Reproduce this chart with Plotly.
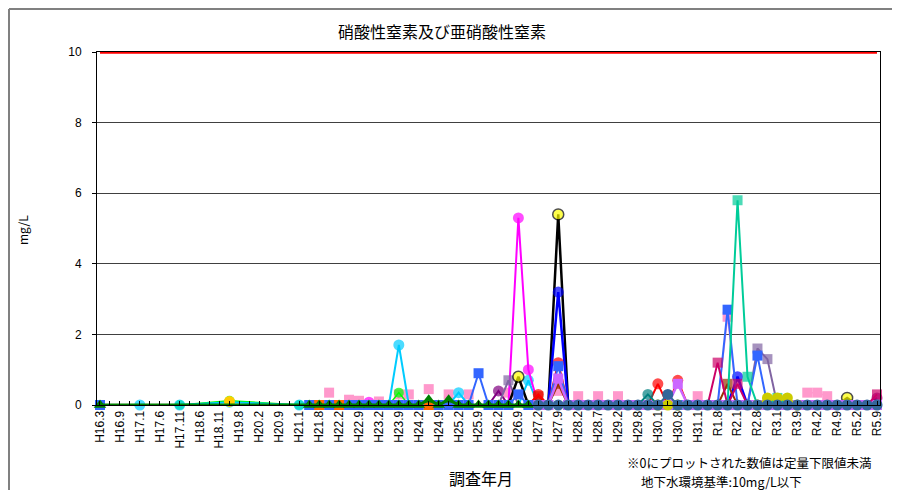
import plotly.graph_objects as go

# ---------------- data ----------------
labels = ["H16.3","H16.9","H17.1","H17.6","H17.11","H18.6","H18.11","H19.8","H20.2","H20.9",
          "H21.1","H21.8","H22.2","H22.9","H23.2","H23.9","H24.2","H24.9","H25.2","H25.9",
          "H26.2","H26.9","H27.2","H27.9","H28.2","H28.7","H29.2","H29.8","H30.1","H30.8",
          "H31.1","R1.8","R2.1","R2.8","R3.1","R3.9","R4.2","R4.9","R5.2","R5.9"]
n_cat = 79          # survey dates (every second one labelled)
standard = 10       # 地下水環境基準 10 mg/L

pink_x = [23, None, 25, 26, None, 28, None, 30, 31, None, 33, None, 35, None, 37, None, 41, None,
          46, None, 48, None, 50, None, 52, None, 60, None, 62, 63, 64, None, 71, 72, 73]
pink_y = [0.35, None, 0.15, 0.12, None, 0.1, None, 0.3, 0.3, None, 0.45, None, 0.3, None, 0.3, None, 0.35, None,
          0.4, None, 0.25, None, 0.25, None, 0.25, None, 0.25, None, 0, 2.5, 0, None, 0.35, 0.35, 0.25]

lime_x = [8, 13, 20, 29, 30, 31]
lime_y = [0, 0.12, 0, 0, 0.35, 0]

cyan_x = [4, 8, 13, 20, 29, 30, 31, 35, 36, 37, 42, 43, 44]
cyan_y = [0, 0, 0.08, 0, 0, 1.7, 0, 0, 0.35, 0, 0, 0.7, 0]

gold_x = [13]
gold_y = [0.1]

magenta_x = [26, 27, 28, 41, 42, 43, 44]
magenta_y = [0, 0.08, 0, 0, 5.3, 1.0, 0]

purple_x = [39, 40, 41, 77, 78]
purple_y = [0, 0.4, 0, 0, 0.2]

greypurple_x = [40, 41, 42, 65, 66, 67, 68]
greypurple_y = [0, 0.7, 0, 0, 1.6, 1.3, 0]

yellow_x = [41, 42, 43, 45, 46, 47, 74, 75, 76]
yellow_y = [0, 0.8, 0, 0, 5.4, 0, 0, 0.2, 0]

bluec_x = [45, 46, 47, 63, 64, 65]
bluec_y = [0, 3.2, 0, 0, 0.8, 0]

brown_x = [43, 44, 45, 46, 47, 62, 63, 64]
brown_y = [0, 0.25, 0, 0.6, 0, 0, 0.6, 0]

red_x = [43, 44, 45, 46, 47, 55, 56, 57, 58, 59]
red_y = [0, 0.3, 0, 1.2, 0, 0, 0.6, 0, 0.7, 0]

bluesq_x = [0,
            21, 22, 23, 24, 25, 26, 27, 28, 29, 30,
            31, 32, 33, 34, 35, 36, 37, 38, 39, 40,
            41, 42, 43, 44, 45, 46, 47, 48, 49, 50,
            51, 52, 53, 54, 55, 56, 57, 58, 59, 60,
            61, 62, 63, 64, 65, 66, 67, 68, 69, 70,
            71, 72, 73, 74, 75, 76, 77, 78]
bluesq_y = [0,
            0, 0, 0, 0, 0, 0, 0, 0, 0, 0,
            0, 0, 0, 0, 0, 0, 0, 0.9, 0, 0,
            0, 0.3, 0, 0, 0, 1.1, 0, 0, 0, 0,
            0, 0, 0, 0, 0, 0, 0, 0, 0, 0,
            0, 0, 2.7, 0, 0, 1.4, 0, 0, 0, 0,
            0, 0, 0, 0, 0, 0, 0, 0]

violet_x = [44, 45, 46, 47, 48, 49, 50,
            51, 52, 53, 54, 55, 56, 57, 58, 59, 60,
            61, 62, 63, 64, 65, 66, 67, 68, 69, 70,
            71, 72, 73, 74, 75, 76, 77, 78]
violet_y = [0, 0, 0.75, 0, 0, 0, 0,
            0, 0, 0, 0, 0, 0, 0, 0.6, 0, 0,
            0, 0, 0, 0, 0, 0, 0, 0, 0, 0,
            0, 0, 0, 0, 0, 0, 0, 0]

tealc_x = [54, 55, 56]
tealc_y = [0, 0.3, 0]

crimson_x = [61, 62, 63, 64, 65, 77, 78]
crimson_y = [0, 1.2, 0, 0.6, 0, 0, 0.3]

tealsq_x = [63, 64, 65, 66, 67, 68, 69]
tealsq_y = [0, 5.8, 0.8, 0, 0, 0.2, 0]

olive_x = [56, 57, 58, 66, 67, 68, 69, 70]
olive_y = [0, 0, 0, 0, 0.2, 0.2, 0.2, 0]

orange_x = [22, 24, 33]
orange_y = [0, 0, 0]

green_x = [0, 21, 22, 23, 24, 25, 26, 27, 28, 29, 30,
           31, 32, 33, 34, 35, 36, 37, 38, 39, 40,
           41, 42, 43]
green_y = [0, 0, 0, 0, 0, 0, 0, 0, 0, 0, 0,
           0, 0, 0.15, 0, 0.15, 0, 0, 0, 0, 0,
           0, 0, 0]

steel_x = [44, 45, 46, 47, 48, 49, 50,
           51, 52, 53, 54, 55, 56, 57, 58, 59, 60,
           61, 62, 63, 64, 65, 66, 67, 68, 69, 70,
           71, 72, 73, 74, 75, 76, 77, 78]
steel_y = [0, 0, 0, 0, 0, 0, 0,
           0, 0, 0, 0, 0, 0, 0.3, 0, 0, 0,
           0, 0, 0, 0, 0, 0, 0, 0, 0, 0,
           0, 0, 0, 0, 0, 0, 0, 0]

# ---------------- figure ----------------
fig = go.Figure()

cat_x = list(range(n_cat))
fig.add_trace(go.Scatter(x=cat_x, y=[standard for _ in cat_x], mode="lines",
                         line=dict(color="#FF0000", width=3.5), showlegend=False,
                         hoverinfo="skip", cliponaxis=False))


def peak_sizes(xs, ys, s):
    return [0 if (v is None or (v == 0 and (xi or 0) > 20)) else s for xi, v in zip(xs, ys)]


def add(xs, ys, color, symbol, size=10, line_color=None, width=2, mode="lines+markers",
        sizes=None, mline=None):
    fig.add_trace(go.Scatter(
        x=xs, y=ys, mode=mode,
        line=dict(color=line_color or color, width=width),
        marker=dict(color=color, symbol=symbol, size=sizes if sizes is not None else size,
                    line=mline or dict(width=0)),
        connectgaps=False, showlegend=False, cliponaxis=False))


add(pink_x, pink_y, "#FF99CC", "square", size=10, width=1.5)
add(lime_x, lime_y, "#00FF00", "circle", width=1.5, sizes=peak_sizes(lime_x, lime_y, 10))
add(cyan_x, cyan_y, "#00CCFF", "circle", width=2, sizes=peak_sizes(cyan_x, cyan_y, 11))
add(gold_x, gold_y, "#FFCC00", "circle", size=11, mode="markers")
add(magenta_x, magenta_y, "#FF00FF", "circle", width=2, sizes=peak_sizes(magenta_x, magenta_y, 11))
add(purple_x, purple_y, "#800080", "circle", width=2, sizes=peak_sizes(purple_x, purple_y, 11))
add(greypurple_x, greypurple_y, "#8064A2", "square", width=2,
    sizes=peak_sizes(greypurple_x, greypurple_y, 10))
add(yellow_x, yellow_y, "#FFFF00", "circle", line_color="#000000", width=2.5,
    sizes=peak_sizes(yellow_x, yellow_y, 11), mline=dict(color="#000000", width=1.5))
add(bluec_x, bluec_y, "#0000FF", "circle", width=2.5, sizes=peak_sizes(bluec_x, bluec_y, 11))
add(brown_x, brown_y, "#993300", "square", width=2, sizes=peak_sizes(brown_x, brown_y, 10))
add(red_x, red_y, "#FF0000", "circle", width=2, sizes=peak_sizes(red_x, red_y, 11))
add(bluesq_x, bluesq_y, "#3366FF", "square", size=10, width=2)
add(violet_x, violet_y, "#CC66FF", "square", size=10, width=2.5)
add(tealc_x, tealc_y, "#008080", "circle", width=2, sizes=peak_sizes(tealc_x, tealc_y, 11))
add(crimson_x, crimson_y, "#CC0066", "square", width=2, sizes=peak_sizes(crimson_x, crimson_y, 10))
add(tealsq_x, tealsq_y, "#00CC99", "square", width=2, sizes=peak_sizes(tealsq_x, tealsq_y, 10))
add(olive_x, olive_y, "#CCCC00", "circle", size=11, width=2)
add(orange_x, orange_y, "#FF6600", "square", size=10, mode="markers")
add(green_x, green_y, "#008000", "triangle-up", size=11, width=3)
add(steel_x, steel_y, "#336699", "circle", size=11, width=2)

tick_vals = list(range(n_cat))
tick_text = []
for i in tick_vals:
    tick_text.append(labels[i // 2] if i % 2 == 0 else "")

# page body adds an 8px offset; plot area in page pixels: x 97..880, y 52..405
OFF = 8
PL, PR, PT, PB = 97, 880, 52, 405
W, H = 900, 490
PW, PH = PR - PL, PB - PT


def px(xp):
    return (xp - PL) / PW


def py(yp):
    return (PB - yp) / PH


cjk = "Noto Sans CJK JP"
frame = dict(color="#808080", width=2)
fig.update_layout(
    width=W, height=H,
    margin=dict(l=PL - OFF, r=W - (PR - OFF), t=PT - OFF, b=H - (PB - OFF)),
    paper_bgcolor="white", plot_bgcolor="white",
    font=dict(family="Liberation Sans, " + cjk, size=12, color="#000000"),
    title=dict(text="硝酸性窒素及び亜硝酸性窒素", x=(442 - OFF) / W, xanchor="center", xref="container",
               y=1 - (32 - OFF) / H, yanchor="middle", yref="container",
               font=dict(family=cjk, size=16, color="#000000")),
    xaxis=dict(range=[-0.3, 78.3], tickmode="array", tickvals=tick_vals, ticktext=tick_text,
               tickangle=-90, ticks="inside", ticklen=4, tickcolor="#000000",
               showgrid=False, zeroline=False, showline=True, linecolor="#000000",
               linewidth=1, mirror=True, tickfont=dict(size=12)),
    yaxis=dict(range=[0, 10], tickvals=[0, 2, 4, 6, 8, 10], ticks="outside", ticklen=4,
               tickcolor="#000000", showgrid=True, gridcolor="#404040", gridwidth=1.2,
               zeroline=False, showline=True, linecolor="#000000", linewidth=1, mirror=True,
               tickfont=dict(size=12), ticklabelstandoff=8),
    annotations=[
        dict(text="mg/L", x=px(22), y=py(230), xref="paper", yref="paper",
             xanchor="center", yanchor="middle",
             showarrow=False, textangle=-90, font=dict(family=cjk, size=12)),
        dict(text="調査年月", x=px(481), y=py(478), xref="paper", yref="paper",
             xanchor="center", yanchor="middle",
             showarrow=False, font=dict(family=cjk, size=16)),
        dict(text="※0にプロットされた数値は定量下限値未満",
             x=px(626), y=py(462.5), xref="paper", yref="paper", xanchor="left", yanchor="middle",
             showarrow=False, borderpad=0, font=dict(family=cjk, size=12.5)),
        dict(text="地下水環境基準:10mg/L以下",
             x=px(640), y=py(481), xref="paper", yref="paper", xanchor="left", yanchor="middle",
             showarrow=False, borderpad=0, font=dict(family=cjk, size=12.5)),
    ],
    shapes=[
        dict(type="line", xref="paper", yref="paper", x0=px(9), x1=px(1000), y0=py(9), y1=py(9),
             line=frame, layer="above"),
        dict(type="line", xref="paper", yref="paper", x0=px(9), x1=px(9), y0=py(9), y1=py(600),
             line=frame, layer="above"),
    ],
)

fig.write_html("out.html")
